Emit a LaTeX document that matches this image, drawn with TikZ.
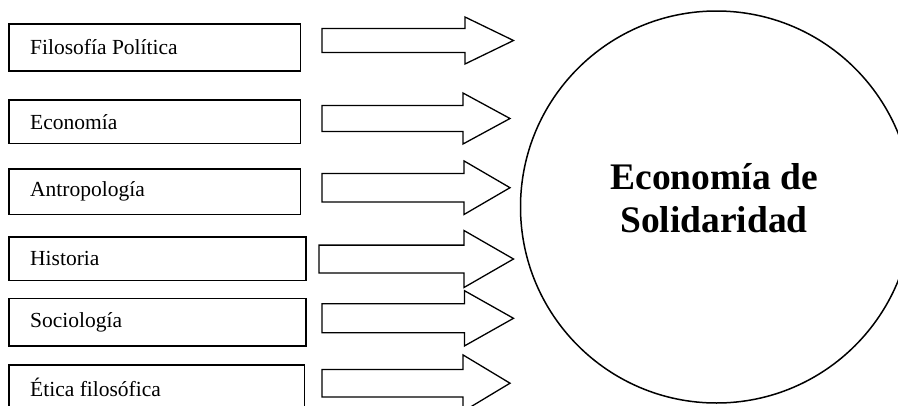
\documentclass[tikz,border=0pt]{standalone}
\usepackage{fontspec}
\setmainfont{Liberation Serif}
\begin{document}
\begin{tikzpicture}[x=1pt,y=-1pt,
  fieldbox/.style={draw,line width=1.7pt},
  fieldlabel/.style={anchor=west,inner sep=0pt,font=\fontsize{21.5}{24}\selectfont},
  blockarrow/.style={draw,line width=1.3pt,line join=miter},
  centrecircle/.style={draw,line width=1.5pt},
  centrelabel/.style={align=center,inner sep=0pt,font=\fontsize{37.5}{43}\selectfont\bfseries}]
\useasboundingbox (0,0) rectangle (898,405);
\clip (0,0) rectangle (898,405);

% field boxes: name / left / top / right / bottom / label
\foreach \n/\xa/\ya/\xb/\yb/\t in {
  fp/9/24/300.5/71/{Filosofía Política},
  ec/9/100/300.5/143.5/{Economía},
  an/9/169/300.5/214.5/{Antropología},
  hi/9/237/306/280.5/{Historia},
  so/9/298.5/306/346/{Sociología},
  et/9/365/304.5/420/{Ética filosófica}}{
  \draw[fieldbox] (\xa,\ya) rectangle (\xb,\yb);
  \node[fieldlabel] (\n) at (30,{min(\ya/2+\yb/2,387)}) {\t};
}

% block arrows: shaft start / head start / tip / centre y / shaft half / head half
\foreach \sx/\hx/\tx/\cy/\hs/\hh in {
  322/465/513.5/40.5/12/23.5,
  322/463/510/118.5/13/25.5,
  322/464/510/187.7/14.2/26.8,
  319/464/513.5/259/13.9/28.5,
  322/464.5/513.5/318.3/14.5/27.6,
  322/463/510/383.2/13.7/28.3}{
  \draw[blockarrow] (\sx,\cy-\hs) -- (\hx,\cy-\hs) -- (\hx,\cy-\hh) -- (\tx,\cy)
     -- (\hx,\cy+\hh) -- (\hx,\cy+\hs) -- (\sx,\cy+\hs) -- cycle;
}

% central concept
\draw[centrecircle] (716.5,207) circle[radius=196];
\node[centrelabel] (es) at (714,198) {Economía de\\Solidaridad};
\end{tikzpicture}
\end{document}
